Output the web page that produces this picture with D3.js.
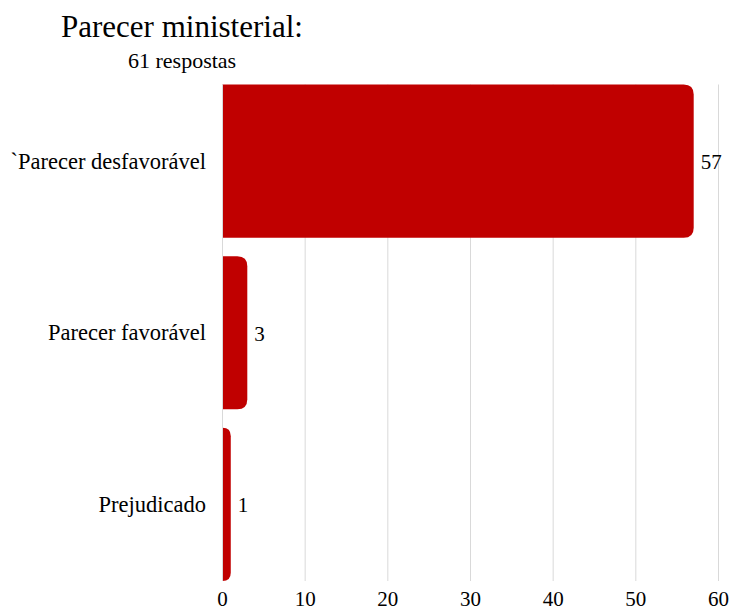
<!DOCTYPE html>
<html>
<head>
<meta charset="utf-8">
<script src="https://cdn.jsdelivr.net/npm/d3@7"></script>
</head>
<body style="margin:0">
<svg id="chart" width="732" height="609"></svg>
<script>
// Response categories and counts
const categories = ["`Parecer desfavorável", "Parecer favorável", "Prejudicado"];
const counts = [57, 3, 1];
const tickValues = [0, 10, 20, 30, 40, 50, 60];
const titleText = "Parecer ministerial:";
const subtitleText = "61 respostas";

const FONT = '"Liberation Serif"';
const svg = d3.select("#chart");
const margin = { left: 222.5, right: 13.5, top: 84.5, bottom: 28 };
const W = 732, H = 609;

const x = d3.scaleLinear().domain([0, 60]).range([margin.left, W - margin.right]);
const y = d3.scaleBand().domain(categories).range([margin.top, H - margin.bottom])
  .paddingInner(0.108).paddingOuter(0);

// Vertical grid lines
svg.append("g").selectAll("line").data(tickValues.filter(d => d > 0)).join("line")
  .attr("x1", d => x(d)).attr("x2", d => x(d))
  .attr("y1", margin.top).attr("y2", H - margin.bottom)
  .attr("stroke", "#d9d9d9").attr("stroke-width", 1);

// Bars with rounded right ends
function barPath(x0, x1, y0, h, r) {
  const w = x1 - x0;
  const rr = Math.min(r, w, h / 2);
  return `M${x0},${y0}H${x1 - rr}Q${x1},${y0} ${x1},${y0 + rr}V${y0 + h - rr}Q${x1},${y0 + h} ${x1 - rr},${y0 + h}H${x0}Z`;
}
const rows = categories.map((c, i) => ({ c, v: counts[i] }));
svg.append("g").selectAll("path").data(rows).join("path")
  .attr("d", d => barPath(x(0), x(d.v), y(d.c), y.bandwidth(), 10))
  .attr("fill", "#c00000");

// Baseline at zero
svg.append("line").attr("x1", x(0)).attr("x2", x(0))
  .attr("y1", margin.top).attr("y2", H - margin.bottom)
  .attr("stroke", "#d9d9d9").attr("stroke-width", 1);

// All text: title, subtitle, value labels, category labels, x tick labels
const texts = [
  { t: titleText, x: 61, y: 37, s: 31, a: "start" },
  { t: subtitleText, x: 128, y: 68, s: 22, a: "start" },
  ...rows.map(d => ({ t: String(d.v), x: x(d.v) + 7, y: y(d.c) + y.bandwidth() / 2 + 8, s: 21, a: "start" })),
  ...categories.map(c => ({ t: c, x: 206, y: y(c) + y.bandwidth() / 2 + 7.5, s: 22.5, a: "end" })),
  ...tickValues.map(v => ({ t: String(v), x: x(v), y: 606, s: 21, a: "middle" }))
];
svg.append("g").selectAll("text").data(texts).join("text")
  .attr("x", d => d.x).attr("y", d => d.y)
  .style("font-family", d => FONT).attr("font-size", d => d.s)
  .attr("text-anchor", d => d.a)
  .text(d => d.t);
</script>
</body>
</html>
